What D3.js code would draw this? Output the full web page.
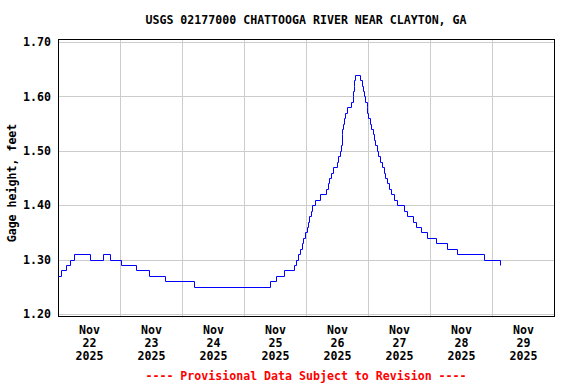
<!DOCTYPE html>
<html>
<head>
<meta charset="utf-8">
<script src="https://cdn.jsdelivr.net/npm/d3@7"></script>
<style>
  html, body { margin: 0; padding: 0; background: #fff; }
  svg { display: block; }
  text { font-family: "DejaVu Sans Mono", "Liberation Mono", monospace; font-weight: bold; }
</style>
</head>
<body>
<svg id="chart" width="576" height="384"></svg>
<script>
// ---- Data ----
const titleText = "USGS 02177000 CHATTOOGA RIVER NEAR CLAYTON, GA";
const yLabelText = "Gage height, feet";
const footerText = "---- Provisional Data Subject to Revision ----";

const yTicks = [1.20, 1.30, 1.40, 1.50, 1.60, 1.70];
const xTickDays = ["2025-11-22", "2025-11-23", "2025-11-24", "2025-11-25",
                   "2025-11-26", "2025-11-27", "2025-11-28", "2025-11-29"];
const xTickMonth = ["Nov", "Nov", "Nov", "Nov", "Nov", "Nov", "Nov", "Nov"];
const xTickDay = ["22", "23", "24", "25", "26", "27", "28", "29"];
const xTickYear = ["2025", "2025", "2025", "2025", "2025", "2025", "2025", "2025"];

// time of each change in gage height, and the new value
const times = [
  "2025-11-22 00:00","2025-11-22 01:15","2025-11-22 03:00","2025-11-22 04:45","2025-11-22 06:15",
  "2025-11-22 12:15","2025-11-22 17:15","2025-11-22 20:00","2025-11-23 00:30","2025-11-23 06:15",
  "2025-11-23 11:15","2025-11-23 17:30","2025-11-24 04:45","2025-11-25 10:15","2025-11-25 12:30",
  "2025-11-25 15:30","2025-11-25 19:15","2025-11-25 20:00","2025-11-25 21:00","2025-11-25 21:45",
  "2025-11-25 22:30","2025-11-25 23:00","2025-11-25 23:30","2025-11-26 00:15","2025-11-26 00:45",
  "2025-11-26 01:15","2025-11-26 01:45","2025-11-26 02:30","2025-11-26 03:30","2025-11-26 05:30",
  "2025-11-26 07:45","2025-11-26 08:30","2025-11-26 09:00","2025-11-26 09:45","2025-11-26 10:30",
  "2025-11-26 12:00","2025-11-26 12:30","2025-11-26 13:15","2025-11-26 13:30","2025-11-26 13:45",
  "2025-11-26 14:00","2025-11-26 14:15","2025-11-26 14:45","2025-11-26 15:00","2025-11-26 15:45",
  "2025-11-26 17:30","2025-11-26 18:00","2025-11-26 18:15","2025-11-26 18:30","2025-11-26 18:45",
  "2025-11-26 19:00","2025-11-26 20:45","2025-11-26 21:30","2025-11-26 22:00","2025-11-26 22:30",
  "2025-11-26 23:00","2025-11-26 23:30","2025-11-26 23:45","2025-11-27 00:00","2025-11-27 00:45",
  "2025-11-27 01:15","2025-11-27 01:45","2025-11-27 02:15","2025-11-27 02:45","2025-11-27 03:30",
  "2025-11-27 03:45","2025-11-27 04:30","2025-11-27 05:30","2025-11-27 06:15","2025-11-27 06:45",
  "2025-11-27 07:30","2025-11-27 08:15","2025-11-27 09:00","2025-11-27 10:00","2025-11-27 11:15",
  "2025-11-27 14:00","2025-11-27 15:15","2025-11-27 17:30","2025-11-27 18:30","2025-11-27 20:30",
  "2025-11-27 22:45","2025-11-28 02:15","2025-11-28 06:30","2025-11-28 10:30","2025-11-28 21:00",
  "2025-11-29 03:00","2025-11-29 03:15"
];
const gage = [
  1.27,1.28,1.29,1.30,1.31,
  1.30,1.31,1.30,1.29,1.28,
  1.27,1.26,1.25,1.26,1.27,
  1.28,1.29,1.30,1.31,1.32,
  1.33,1.34,1.35,1.36,1.37,
  1.38,1.39,1.40,1.41,1.42,
  1.43,1.44,1.45,1.46,1.47,
  1.48,1.49,1.50,1.51,1.53,
  1.54,1.55,1.56,1.57,1.58,
  1.59,1.60,1.61,1.62,1.63,
  1.64,1.63,1.62,1.61,1.60,
  1.59,1.58,1.57,1.56,1.55,
  1.54,1.53,1.52,1.51,1.50,
  1.49,1.48,1.47,1.46,1.45,
  1.44,1.43,1.42,1.41,1.40,
  1.39,1.38,1.37,1.36,1.35,
  1.34,1.33,1.32,1.31,1.30,
  1.29,1.29
];

// ---- Drawing ----
const parseT = d3.timeParse("%Y-%m-%d %H:%M");
const parseD = d3.timeParse("%Y-%m-%d");
const data = times.map((t, i) => ({ t: parseT(t), v: gage[i] }));

const svg = d3.select("#chart");
const plot = { left: 58, right: 554, top: 39, bottom: 316 };

const x = d3.scaleTime()
  .domain([parseD("2025-11-22"), parseD("2025-11-30")])
  .range([plot.left, plot.right]);
const y = d3.scaleLinear()
  .domain([1.20, 1.70])
  .range([314, 42]);

// horizontal gridlines
svg.append("g")
  .attr("transform", `translate(${plot.left},0)`)
  .call(d3.axisLeft(y).tickValues(yTicks).tickSize(-(plot.right - plot.left)).tickFormat(""))
  .call(g => g.select(".domain").remove())
  .call(g => g.selectAll("line").attr("stroke", "#cccccc").attr("shape-rendering", "crispEdges"));

// vertical gridlines at midnight
const midnights = xTickDays.slice(1).map(parseD).concat([parseD("2025-11-30")]);
svg.append("g")
  .attr("transform", `translate(0,${plot.bottom})`)
  .call(d3.axisBottom(x).tickValues(midnights).tickSize(-(plot.bottom - plot.top)).tickFormat(""))
  .call(g => g.select(".domain").remove())
  .call(g => g.selectAll("line").attr("stroke", "#cccccc").attr("shape-rendering", "crispEdges"));

// data line (snapped to pixel centres for a crisp 1px stroke)
const line = d3.line()
  .x(d => Math.round(x(d.t)) + 0.5)
  .y(d => Math.round(y(d.v)) + 0.5)
  .curve(d3.curveStepAfter);
svg.append("path")
  .datum(data)
  .attr("fill", "none")
  .attr("stroke", "#0000ff")
  .attr("stroke-width", 1)
  .attr("d", line);

// plot border
svg.append("rect")
  .attr("x", plot.left + 0.5).attr("y", plot.top + 0.5)
  .attr("width", plot.right - plot.left).attr("height", plot.bottom - plot.top)
  .attr("fill", "none").attr("stroke", "#000").attr("stroke-width", 1)
  .attr("shape-rendering", "crispEdges");

// y axis labels
svg.append("g")
  .attr("transform", `translate(${plot.left},0)`)
  .call(d3.axisLeft(y).tickValues(yTicks).tickSize(0).tickPadding(7).tickFormat(d3.format(".2f")))
  .call(g => g.select(".domain").remove())
  .call(g => g.selectAll("text")
    .attr("fill", "#000")
    .style("font-family", "'DejaVu Sans Mono', monospace")
    .style("font-weight", "bold")
    .style("font-size", "11.6px"));

// x axis labels (three lines, centred at noon)
const noons = xTickDays.map(d => d3.timeHour.offset(parseD(d), 12));
const xAxisG = svg.append("g")
  .attr("transform", `translate(0,${plot.bottom})`)
  .call(d3.axisBottom(x).tickValues(noons).tickSize(0).tickFormat(""))
  .call(g => g.select(".domain").remove());
xAxisG.selectAll(".tick text").each(function(d, i) {
  const t = d3.select(this)
    .attr("fill", "#000")
    .attr("y", 0).attr("dy", null)
    .style("font-family", "'DejaVu Sans Mono', monospace")
    .style("font-weight", "bold")
    .style("font-size", "11.6px");
  t.text(null);
  [xTickMonth[i], xTickDay[i], xTickYear[i]].forEach((s, k) => {
    t.append("tspan").attr("x", 0).attr("y", 18 + k * 13).text(s);
  });
});

// title
svg.append("text")
  .attr("x", 306).attr("y", 24)
  .attr("text-anchor", "middle")
  .style("font-size", "11.6px")
  .attr("fill", "#000")
  .text(titleText);

// y label
svg.append("text")
  .attr("transform", "translate(16,183) rotate(-90)")
  .attr("text-anchor", "middle")
  .style("font-size", "11.6px")
  .attr("fill", "#000")
  .text(yLabelText);

// footer
svg.append("text")
  .attr("x", 306).attr("y", 380)
  .attr("text-anchor", "middle")
  .style("font-size", "11.6px")
  .attr("fill", "#ff0000")
  .text(footerText);
</script>
</body>
</html>
